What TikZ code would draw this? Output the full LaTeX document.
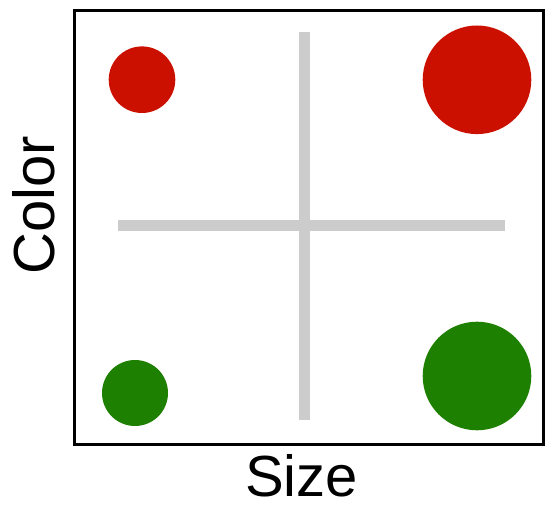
\documentclass[tikz,border=0pt]{standalone}
\usepackage{fontspec}
\setmainfont{Liberation Sans}
\usetikzlibrary{positioning}

\definecolor{dotred}{RGB}{204,16,0}
\definecolor{dotgreen}{RGB}{30,128,0}
\definecolor{crossgray}{RGB}{204,204,204}

\tikzset{
  dot/.style={circle,inner sep=0pt,fill=#1},
  axislabel/.style={font=\fontsize{58}{58}\selectfont,inner sep=0pt,anchor=base},
  crossbar/.style={draw=crossgray,line width=11pt}
}

\begin{document}
\begin{tikzpicture}[x=1pt,y=-1pt]
  \useasboundingbox (0,0) rectangle (557,521);

  % frame
  \draw[line width=2.6pt] (74.5,10.5) rectangle (543.5,444.5);

  % gray cross
  \coordinate (vtop) at (304.5,32);
  \coordinate (vbot) at (304.5,420);
  \coordinate (hleft) at (118,225.5);
  \coordinate (hright) at (505,225.5);
  \draw[crossbar] (vtop) -- (vbot);
  \draw[crossbar] (hleft) -- (hright);

  % dots
  \node[dot=dotred,minimum size=66.6pt] (smallred) at (142,79.7) {};
  \node[dot=dotred,minimum size=108.6pt] (bigred) at (477,79.8) {};
  \node[dot=dotgreen,minimum size=66pt] (smallgreen) at (135,393) {};
  \node[dot=dotgreen,minimum size=108.6pt] (biggreen) at (477,376) {};

  % axis labels
  \node[axislabel] (sizelabel) at (301.5,496.7) {Size};
  \node[axislabel,rotate=90] (colorlabel) at (54,205) {Color};
\end{tikzpicture}
\end{document}
